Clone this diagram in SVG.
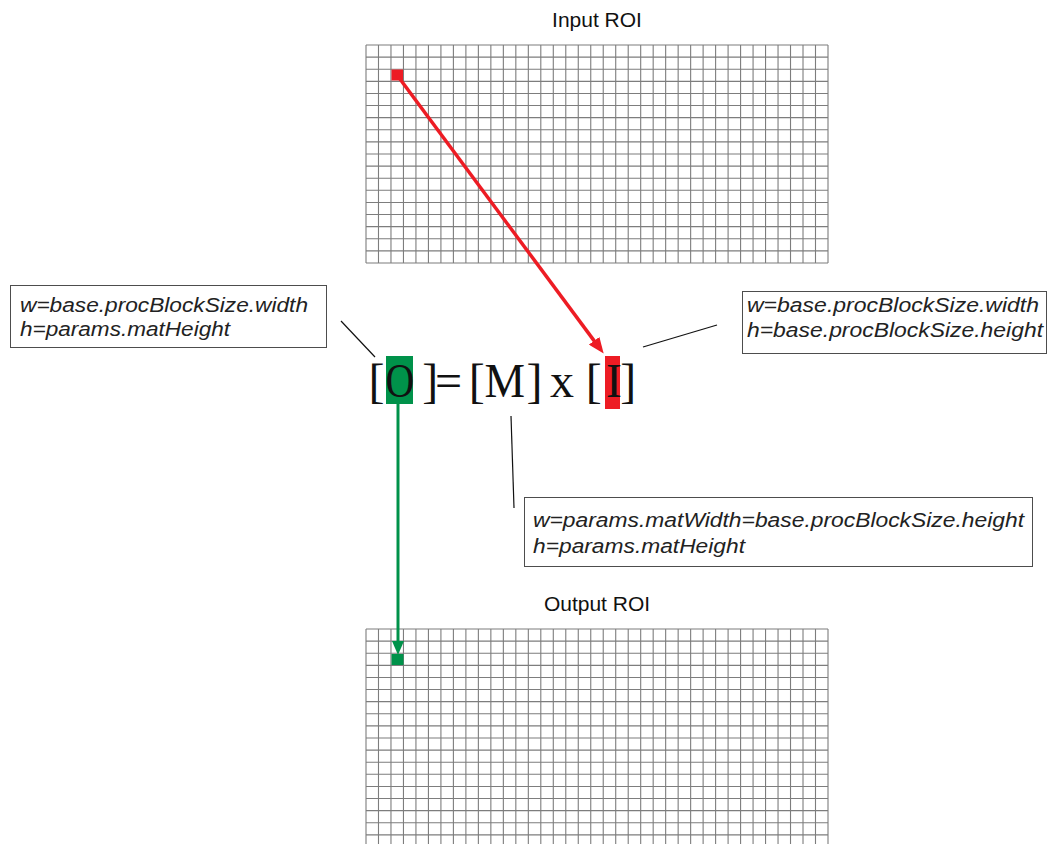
<svg xmlns="http://www.w3.org/2000/svg" xmlns:xlink="http://www.w3.org/1999/xlink" width="1048" height="844" viewBox="0 0 1048 844">
<style>
.grid{fill:none;stroke:#7d7d7d;stroke-width:1.1}
.title{font-family:"Liberation Sans",Arial,sans-serif;font-size:21px;fill:#111;text-anchor:middle}
.box{fill:#fff;stroke:#4d4d4d;stroke-width:1}
.lbl{font-family:"Liberation Sans",Arial,sans-serif;font-size:20.5px;font-style:italic;fill:#222}
.eq{font-family:"Liberation Serif","Times New Roman",serif;font-size:48px;fill:#111}
.leader{stroke:#111;stroke-width:1.2;fill:none}
</style>
<defs>
<path id="gridlines" class="grid" d="M0 0V218M12.49 0V218M24.97 0V218M37.46 0V218M49.94 0V218M62.43 0V218M74.92 0V218M87.4 0V218M99.89 0V218M112.37 0V218M124.86 0V218M137.35 0V218M149.83 0V218M162.32 0V218M174.8 0V218M187.29 0V218M199.78 0V218M212.26 0V218M224.75 0V218M237.23 0V218M249.72 0V218M262.21 0V218M274.69 0V218M287.18 0V218M299.66 0V218M312.15 0V218M324.64 0V218M337.12 0V218M349.61 0V218M362.09 0V218M374.58 0V218M387.07 0V218M399.55 0V218M412.04 0V218M424.52 0V218M437.01 0V218M449.5 0V218M462 0V218M0 0H462M0 12.11H462M0 24.22H462M0 36.33H462M0 48.44H462M0 60.55H462M0 72.66H462M0 84.77H462M0 96.88H462M0 108.99H462M0 121.1H462M0 133.21H462M0 145.32H462M0 157.43H462M0 169.54H462M0 181.65H462M0 193.76H462M0 205.87H462M0 218H462"/>
<marker id="arrRed" markerUnits="userSpaceOnUse" markerWidth="16" markerHeight="13" viewBox="0 0 16 13" refX="11" refY="6.5" orient="auto"><path d="M0 0L16 6.5L0 13z" fill="#ed1c24"/></marker>
<marker id="arrGreen" markerUnits="userSpaceOnUse" markerWidth="14" markerHeight="12" viewBox="0 0 14 12" refX="9" refY="6" orient="auto"><path d="M0 0L14 6L0 12z" fill="#00924a"/></marker>
</defs>

<g id="input-roi">
<text class="title" x="597" y="27">Input ROI</text>
<use xlink:href="#gridlines" href="#gridlines" x="366" y="45"/>
<rect x="391.5" y="69.5" width="11.5" height="11" fill="#ed1c24"/>
</g>

<g id="output-roi">
<text class="title" x="597" y="611">Output ROI</text>
<use xlink:href="#gridlines" href="#gridlines" x="366" y="629"/>
<rect x="391.5" y="654" width="12" height="11" fill="#00924a"/>
</g>

<g id="equation">
<rect x="386" y="356" width="27" height="48" fill="#00924a"/>
<rect x="605" y="356" width="15" height="53" fill="#ed1c24"/>
<text class="eq" x="368.5" y="397">[</text>
<text class="eq" transform="translate(385.6 397) scale(0.83 1)">O</text>
<text class="eq" x="422.3" y="397">]</text>
<text class="eq" x="435" y="397">=</text>
<text class="eq" x="468.8" y="397">[</text>
<text class="eq" transform="translate(484.4 397) scale(0.95 1)">M</text>
<text class="eq" x="526.5" y="397">]</text>
<text class="eq" x="550" y="397">x</text>
<text class="eq" x="585.8" y="397">[</text>
<text class="eq" x="606" y="397">I</text>
<text class="eq" x="620.3" y="397">]</text>
</g>

<g id="label-output">
<rect class="box" x="10.5" y="285.5" width="316" height="62"/>
<text class="lbl" x="20" y="312" textLength="288" lengthAdjust="spacingAndGlyphs">w=base.procBlockSize.width</text>
<text class="lbl" x="20" y="336" textLength="210" lengthAdjust="spacingAndGlyphs">h=params.matHeight</text>
</g>

<g id="label-input">
<rect class="box" x="742.5" y="291.5" width="304" height="62"/>
<text class="lbl" x="747" y="312" textLength="292" lengthAdjust="spacingAndGlyphs">w=base.procBlockSize.width</text>
<text class="lbl" x="747" y="337" textLength="296" lengthAdjust="spacingAndGlyphs">h=base.procBlockSize.height</text>
</g>

<g id="label-matrix">
<rect class="box" x="524.5" y="497.5" width="508" height="69"/>
<text class="lbl" x="533" y="527" textLength="491" lengthAdjust="spacingAndGlyphs">w=params.matWidth=base.procBlockSize.height</text>
<text class="lbl" x="533" y="553" textLength="212" lengthAdjust="spacingAndGlyphs">h=params.matHeight</text>
</g>

<g id="connectors">
<line x1="397" y1="75" x2="600.7" y2="349.6" stroke="#ed1c24" stroke-width="3.5" marker-end="url(#arrRed)"/>
<line x1="398" y1="404" x2="398" y2="650" stroke="#00924a" stroke-width="3" marker-end="url(#arrGreen)"/>
<line class="leader" x1="341" y1="321" x2="375" y2="357"/>
<line class="leader" x1="643" y1="347" x2="717" y2="325"/>
<line class="leader" x1="511" y1="416" x2="514" y2="508"/>
</g>
</svg>
